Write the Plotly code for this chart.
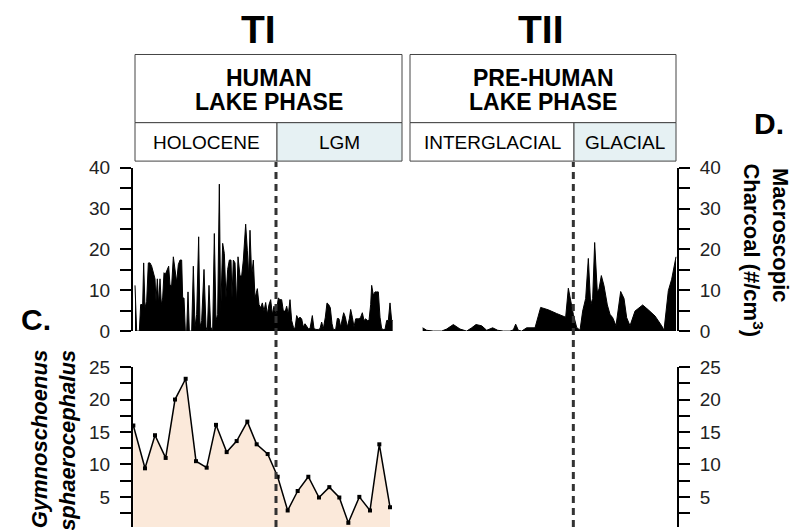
import plotly.graph_objects as go

W, H = 800, 530
OFF = 8  # page body margin of the rendered html

# ---- Data ----
# TI (human lake phase) macroscopic charcoal: relative core position / value (#/cm3)
ti_pos = [105,110,118,122,128,131,135,140,145,150,155,160,165,168,172,176,180,184,188,192,196,200,206,210,215,220,225,230,235,240,245,248,252,256,260,264,268,275,280,285,290,296,300,305,312,318,322,327,332,338,343,348,353,358,362,368,373,378,383,388,393,396,400,405,410,414,420,425,430,437,442,446,450,455,460,465,472,477,482,487,492,497,502,507,512,517,522,528,535,540,545,550,556,560,565,570,575,580,585,590,595,600,605,610,615,620,625,630,637,642,648,655,660,665,670,676,681,686,691,696,700,707,712,717,722,727,731,736,742,748,752,757,762,767,772,777,782,787,792,797,802,807,812,815,820,825,830,835,840,845,850,855,860,865,870,875,878]
ti_charcoal = [11.2,0,0,6.5,6.5,16.7,5.7,7.3,16.7,16.7,15.9,14.3,12.8,7.3,12.8,6.5,12.8,6.5,8.1,14.3,13.9,14.7,15.9,11.2,11.2,18.2,15.1,12.0,16.3,17.4,17.4,8.1,8.1,0,0,9.6,0,0,15.9,1.0,4.1,23.1,1.0,2.6,15.1,1.0,0,11.2,1.0,0,23.9,2.6,4.1,36.0,4.1,21.5,19.0,8.1,15.1,17.4,17.4,8.1,17.4,16.7,6.5,18.2,13.5,13.5,17.4,26.2,19.8,13.5,24.7,13.5,17.4,8.1,10.4,6.5,5.7,6.9,4.9,7.0,4.1,6.5,7.7,4.1,6.1,4.1,8.1,7.7,7.7,4.9,4.9,6.1,4.1,7.7,2.6,1.0,0.6,3.8,3.0,3.4,3.0,1.0,1.8,1.0,0.6,0.6,3.8,0.6,0.4,0.4,0.6,2.2,0.6,3.4,6.9,6.5,5.7,1.8,0.4,0.4,3.1,3.0,1.0,3.0,4.5,3.4,1.0,3.0,5.3,3.4,1.0,3.0,3.0,3.0,3.4,4.5,2.6,3.0,2.6,2.6,6.5,11.2,8.8,9.6,9.6,9.6,3.4,0.6,0.4,0.4,2.6,2.6,6.9,2.6,2.6]

# TII (pre-human lake phase) macroscopic charcoal
tii_pos = [68,80,100,125,140,160,180,200,215,228,245,260,278,293,310,330,340,347,355,365,380,405,422,445,470,497,505,515,520,530,540,548,557,565,572,578,584,592,597,604,612,622,630,638,648,662,672,680,690,705,728,745,765,785,792,805,815,828]
tii_charcoal = [0.8,0.2,0,0,0.5,1.6,0.5,0,0.8,1.6,1.3,0.2,0.8,0.2,0,0,0.3,1.7,0.2,0,0.8,0.8,5.8,5.2,4.3,3.4,10.5,5.6,4.1,0.9,0.2,4.9,8.0,17.8,6.4,8.0,21.7,9.5,10.3,13.6,11.1,6.4,4.1,3.3,1.3,9.7,8.0,3.3,1.3,4.9,6.4,5.2,3.7,1.3,0.2,9.9,12.7,18.2]

# TI Gymnoschoenus sphaerocephalus pollen
gym_pos = [100,135,165,197,225,257,288,320,348,380,410,442,470,503,533,563,593,625,657,688,718,745,778,810,838,870]
gym_vals = [16,9.4,14.5,11,20,23.2,10.5,9.5,16.1,11.9,13.6,16.6,13.1,11.6,8.1,2.9,5.9,8.1,4.9,6.5,4.9,1.0,5.0,2.9,13.1,3.4]

# Phase boundaries (same position units)
ti_boundary = 528
tii_boundary = 520

charcoal_ticks = [0, 10, 20, 30, 40]
charcoal_minor = [5, 15, 25, 35]
gym_ticks = [5, 10, 15, 20, 25]
gym_minor = [2.5, 7.5, 12.5, 17.5, 22.5]

# ---- Layout helpers (screen pixel -> paper) ----
def px_x(p):
    return (p - OFF) / W

def px_y(p):
    return 1 - (p - OFF) / H

FONT = "Liberation Sans, Arial, sans-serif"
up_dom = [px_y(334), px_y(164)]
lo_dom = [0, px_y(371.5)]
lo_range = [(540.4 - (H + OFF)) / 6.756, 25]

fig = go.Figure()

fig.add_trace(go.Scatter(x=ti_pos, y=ti_charcoal, xaxis="x", yaxis="y",
                         mode="lines", fill="tozeroy", fillcolor="black",
                         line=dict(color="black", width=1)))
fig.add_trace(go.Scatter(x=tii_pos, y=tii_charcoal, xaxis="x3", yaxis="y3",
                         mode="lines", fill="tozeroy", fillcolor="black",
                         line=dict(color="black", width=1)))
fig.add_trace(go.Scatter(x=gym_pos, y=gym_vals, xaxis="x", yaxis="y2",
                         mode="lines+markers", fill="tozeroy", fillcolor="#fbe9da",
                         line=dict(color="black", width=1.5),
                         marker=dict(symbol="square", size=4, color="black")))
fig.add_trace(go.Scatter(x=[], y=[], xaxis="x3", yaxis="y4", mode="lines"))

def yax(ticks, minor):
    return dict(showline=True, linewidth=2, linecolor="black", ticks="outside",
                ticklen=11, tickwidth=2, tickcolor="black", showgrid=False, zeroline=False,
                ticklabelstandoff=6, tickmode="array", tickvals=ticks,
                minor=dict(tickmode="array", tickvals=minor, ticks="outside", ticklen=11,
                           tickwidth=2, tickcolor="black", showgrid=False),
                tickfont=dict(family=FONT, size=19, color="#222"), fixedrange=True)

fig.update_layout(
    width=W, height=H, margin=dict(l=0, r=0, t=0, b=0),
    paper_bgcolor="white", plot_bgcolor="rgba(0,0,0,0)", showlegend=False,
    xaxis=dict(domain=[px_x(133), px_x(396)], range=[99, 888], visible=False, anchor="y"),
    xaxis3=dict(domain=[px_x(410), px_x(677)], range=[30, 831], visible=False, anchor="y3"),
    yaxis=dict(domain=up_dom, range=[0, 40], anchor="x", side="left",
               **yax(charcoal_ticks, charcoal_minor)),
    yaxis2=dict(domain=lo_dom, range=lo_range, anchor="x", side="left",
                **yax(gym_ticks, gym_minor)),
    yaxis3=dict(domain=up_dom, range=[0, 40], anchor="x3", side="right",
                **yax(charcoal_ticks, charcoal_minor)),
    yaxis4=dict(domain=lo_dom, range=lo_range, anchor="x3", side="right",
                **yax(gym_ticks, gym_minor)),
)

shapes = []
def box(x0, x1, y0, y1, fill="white"):
    shapes.append(dict(type="rect", xref="paper", yref="paper",
                       x0=px_x(x0), x1=px_x(x1), y0=px_y(y1), y1=px_y(y0),
                       line=dict(color="#444", width=1), fillcolor=fill, layer="below"))

box(135, 402, 46, 117)
box(135, 277, 117, 157)
box(277, 402, 117, 157, "#e6f1f3")
box(410, 676, 46, 117)
box(410, 574, 117, 157)
box(574, 676, 117, 157, "#e6f1f3")

for xa, b in (("x", ti_boundary), ("x3", tii_boundary)):
    shapes.append(dict(type="line", xref=xa, yref="paper", x0=b, x1=b,
                       y0=0, y1=px_y(158), line=dict(color="#333", width=3, dash="7px,5px")))
fig.update_layout(shapes=shapes)

ann = []
def text(x, y, s, size, bold=True, italic=False, angle=0, xanchor="center", yanchor="middle"):
    t = s
    if bold:
        t = "<b>" + t + "</b>"
    if italic:
        t = "<i>" + t + "</i>"
    ann.append(dict(x=px_x(x), y=px_y(y), xref="paper", yref="paper", text=t, showarrow=False,
                    font=dict(family=FONT, size=size, color="black"), textangle=angle,
                    xanchor=xanchor, yanchor=yanchor))

text(258, 20, "TI", 39)
text(541, 20, "TII", 39)
text(268.5, 70, "HUMAN", 23)
text(268.5, 95.5, "LAKE PHASE", 23)
text(543, 70, "PRE-HUMAN", 23)
text(543, 95.5, "LAKE PHASE", 23)
text(206, 138, "HOLOCENE", 19, bold=False)
text(339.5, 138, "LGM", 19, bold=False)
text(492, 138, "INTERGLACIAL", 19, bold=False)
text(625, 138, "GLACIAL", 19, bold=False)
text(36, 322, "C.", 30)
text(769, 118, "D.", 30)
text(781, 234, "Macroscopic", 22, angle=90)
text(753, 250, "Charcoal (#/cm<sup>3</sup>)", 22, angle=90)
text(39, 352, "Gymnoschoenus", 22, italic=True, angle=-90, yanchor="top")
text(68, 352, "sphaerocephalus", 22, italic=True, angle=-90, yanchor="top")
fig.update_layout(annotations=ann)

fig.write_html("out.html")
